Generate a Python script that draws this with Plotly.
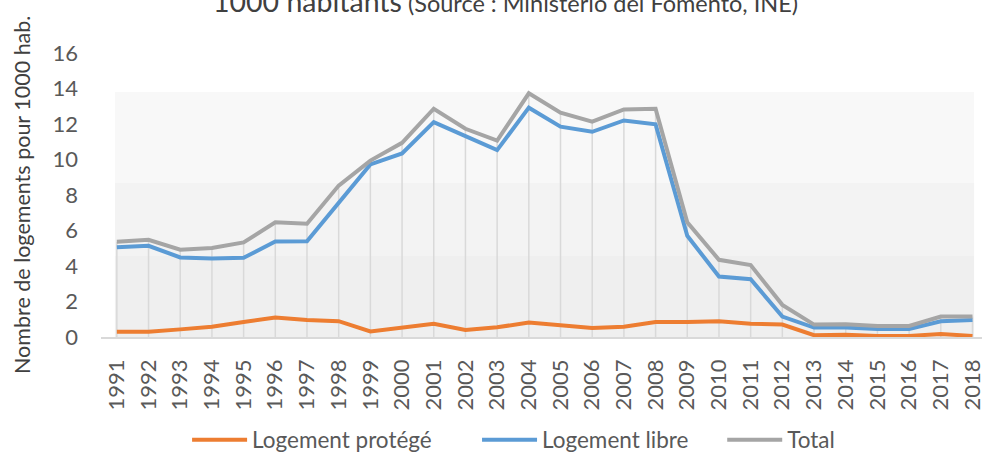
import plotly.graph_objects as go

years = [str(y) for y in range(1991, 2019)]

logement_protege = [0.30, 0.30, 0.43, 0.58, 0.85, 1.10, 0.96, 0.89, 0.31, 0.55,
                    0.75, 0.40, 0.55, 0.81, 0.68, 0.51, 0.58, 0.85, 0.84, 0.89,
                    0.75, 0.70, 0.10, 0.12, 0.06, 0.06, 0.17, 0.06]
logement_libre = [5.05, 5.14, 4.48, 4.42, 4.46, 5.38, 5.40, 7.55, 9.72, 10.34,
                  12.11, 11.32, 10.53, 12.92, 11.85, 11.56, 12.20, 11.98, 5.70, 3.41,
                  3.26, 1.15, 0.53, 0.53, 0.45, 0.45, 0.89, 0.96]
total = [5.37, 5.48, 4.92, 5.01, 5.33, 6.46, 6.38, 8.53, 9.94, 10.94,
         12.86, 11.73, 11.07, 13.73, 12.64, 12.13, 12.82, 12.86, 6.46, 4.35,
         4.05, 1.81, 0.70, 0.72, 0.62, 0.62, 1.15, 1.15]

y_ticks = [0, 2, 4, 6, 8, 10, 12, 14, 16]

FONT = "Lato"
TEXT = "#595959"
NB = "\u00a0"

fig = go.Figure()

# drop lines from the highest series down to the category axis
drop_x, drop_y = [], []
for yr, t in zip(years, total):
    drop_x += [yr, yr, None]
    drop_y += [0, t, None]
fig.add_trace(go.Scatter(x=drop_x, y=drop_y, mode="lines",
                         line=dict(color="#d9d9d9", width=1.5),
                         showlegend=False, hoverinfo="skip"))

series = [
    ("Logement protégé", logement_protege, "#ED7D31", NB * 7),
    ("Logement libre", logement_libre, "#5B9BD5", NB * 5),
    ("Total", total, "#A5A5A5", ""),
]
for name, vals, col, pad in series:
    fig.add_trace(go.Scatter(x=years, y=vals, name=name + pad, mode="lines",
                             line=dict(color=col, width=4)))

# soft banded fill behind the plotted series
bands = [(0.0, 4.6, "#efefef"), (4.6, 8.7, "#f3f3f3"), (8.7, 13.8, "#f8f8f8")]
for y0, y1, col in bands:
    fig.add_shape(type="rect", xref="x", yref="y", x0=-0.06, x1=27.05,
                  y0=y0, y1=y1, fillcolor=col, line_width=0, layer="below")

fig.update_layout(
    width=982, height=456,
    margin=dict(l=101, r=0, t=53, b=119, autoexpand=False),
    paper_bgcolor="white", plot_bgcolor="white",
    font=dict(family=FONT, size=22, color=TEXT),
    showlegend=True,
    legend=dict(orientation="h", xref="container", yref="container",
                x=0.523, xanchor="center", y=0.035, yanchor="middle",
                font=dict(size=22.5, color=TEXT), itemwidth=55, tracegroupgap=0,
                bgcolor="rgba(0,0,0,0)"),
    xaxis=dict(type="category", range=[-0.5, 27.3], tickangle=-90,
               showgrid=False, showline=True, linecolor="#d9d9d9", linewidth=1.5,
               ticks="", ticklabelstandoff=12, tickfont=dict(size=22, color=TEXT)),
    yaxis=dict(range=[0, 16], tickvals=y_ticks, showgrid=False, zeroline=False,
               showline=False, ticks="", ticklabelstandoff=22,
               tickfont=dict(size=22, color=TEXT)),
    annotations=[
        dict(text="Nombre de logements pour 1000 hab.", textangle=-90,
             xref="paper", yref="paper", x=-0.0897, y=0.5,
             xanchor="center", yanchor="middle", showarrow=False,
             font=dict(size=21.5, color="#404040")),
        dict(text="<span style='font-size:28.5px'>1000 habitants</span> "
                  "(Source : Ministerio del Fomento, INE)",
             xref="paper", yref="paper", x=0.4586, y=1.115,
             xanchor="center", yanchor="bottom", showarrow=False,
             font=dict(size=23.5, color="#404040")),
    ],
)

fig.write_html("out.html")
